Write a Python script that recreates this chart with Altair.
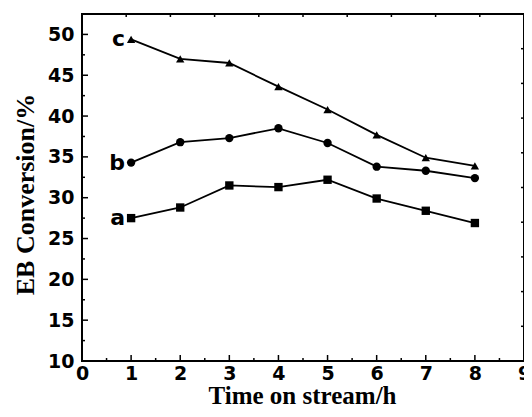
import altair as alt
import pandas as pd

# ---- data ----
time_h = [1, 2, 3, 4, 5, 6, 7, 8]
conv_a = [27.5, 28.8, 31.5, 31.3, 32.2, 29.9, 28.4, 26.9]
conv_b = [34.3, 36.8, 37.3, 38.5, 36.7, 33.8, 33.3, 32.4]
conv_c = [49.4, 47.0, 46.5, 43.6, 40.8, 37.7, 34.9, 33.9]
series_names = ["a", "b", "c"]
series_shapes = ["square", "circle", "triangle-up"]

x_major = [0, 1, 2, 3, 4, 5, 6, 7, 8, 9]
x_minor = [0.5, 1.5, 2.5, 3.5, 4.5, 5.5, 6.5, 7.5, 8.5]
y_major = [10, 15, 20, 25, 30, 35, 40, 45, 50]
y_minor = [12.5, 17.5, 22.5, 27.5, 32.5, 37.5, 42.5, 47.5]
top_ticks = [0.9, 1.8, 2.7, 3.6, 4.5, 5.4, 6.3, 7.2, 8.1]
right_ticks = [14.25, 18.5, 22.75, 27.0, 31.25, 35.5, 39.75, 44.0, 48.25]

X_DOMAIN = [0, 9]
Y_DOMAIN = [10, 52.5]
W, H = 442, 347

rows = []
for name, shape, vals in zip(series_names, series_shapes, [conv_a, conv_b, conv_c]):
    for t, v in zip(time_h, vals):
        rows.append({"time": t, "conv": v, "series": name, "shape": shape})
df = pd.DataFrame(rows)
first = df[df["time"] == time_h[0]]

xs = alt.Scale(domain=X_DOMAIN, nice=False, zero=False)
ys = alt.Scale(domain=Y_DOMAIN, nice=False, zero=False)

label_font = "DejaVu Sans"
title_font = "Liberation Serif"

x_axis = alt.Axis(values=x_major, ticks=False, domain=False, grid=False,
                  labelFont=label_font, labelFontSize=19, labelFontWeight="bold",
                  labelColor="black", labelPadding=3, labelFlush=False,
                  title="Time on stream/h", titleFont=title_font, titleFontSize=25,
                  titleFontWeight="bold", titleColor="black", titleX=220, titleY=42,
                  titleBaseline="alphabetic")
y_axis = alt.Axis(values=y_major, ticks=False, domain=False, grid=False,
                  labelFont=label_font, labelFontSize=19, labelFontWeight="bold",
                  labelColor="black", labelPadding=8, labelFlush=False,
                  title="EB Conversion/%", titleFont=title_font, titleFontSize=26,
                  titleFontWeight="bold", titleColor="black", titleX=-49, titleY=180,
                  titleAngle=-90, titleBaseline="alphabetic")

base = alt.Chart(df)

frame = alt.Chart(pd.DataFrame({"k": [0]})).mark_rect(
    fill="white", fillOpacity=0, stroke="black", strokeWidth=2
).encode(x=alt.value(0), x2=alt.value(W), y=alt.value(0), y2=alt.value(H))

lines = base.mark_line(color="black", strokeWidth=1.8).encode(
    x=alt.X("time:Q", scale=xs, axis=x_axis),
    y=alt.Y("conv:Q", scale=ys, axis=y_axis),
    detail="series:N",
)

points = base.mark_point(filled=True, color="black", opacity=1, size=70).encode(
    x=alt.X("time:Q", scale=xs),
    y=alt.Y("conv:Q", scale=ys),
    shape=alt.Shape("shape:N", scale=None),
)

labels = alt.Chart(first).mark_text(
    align="right", baseline="middle", dx=-6, dy=0,
    font=label_font, fontSize=22, fontWeight="bold", color="black"
).encode(
    x=alt.X("time:Q", scale=xs),
    y=alt.Y("conv:Q", scale=ys),
    text="series:N",
)

def vtick(values, y0, y1, scale):
    return alt.Chart(pd.DataFrame({"v": values})).mark_rule(color="black", strokeWidth=1.5).encode(
        x=alt.X("v:Q", scale=scale), y=alt.value(y0), y2=alt.value(y1))

def htick(values, x0, x1, scale):
    return alt.Chart(pd.DataFrame({"v": values})).mark_rule(color="black", strokeWidth=1.5).encode(
        y=alt.Y("v:Q", scale=scale), x=alt.value(x0), x2=alt.value(x1))

ticks = [
    vtick(x_major, H, H - 6, xs),
    vtick(x_minor, H, H - 3, xs),
    htick(y_major, 0, 6, ys),
    htick(y_minor, 0, 3, ys),
    vtick(top_ticks, 0, 3, xs),
    htick(right_ticks, W, W - 3, ys),
]

chart = alt.layer(lines, frame, points, labels, *ticks).properties(
    width=W, height=H,
    autosize=alt.AutoSizeParams(type="none"),
    padding={"left": 74, "top": 6, "right": 0, "bottom": 48},
).configure_view(stroke=None).configure(background="white")

chart.save("out.html", embed_options={"renderer": "svg", "actions": False})
